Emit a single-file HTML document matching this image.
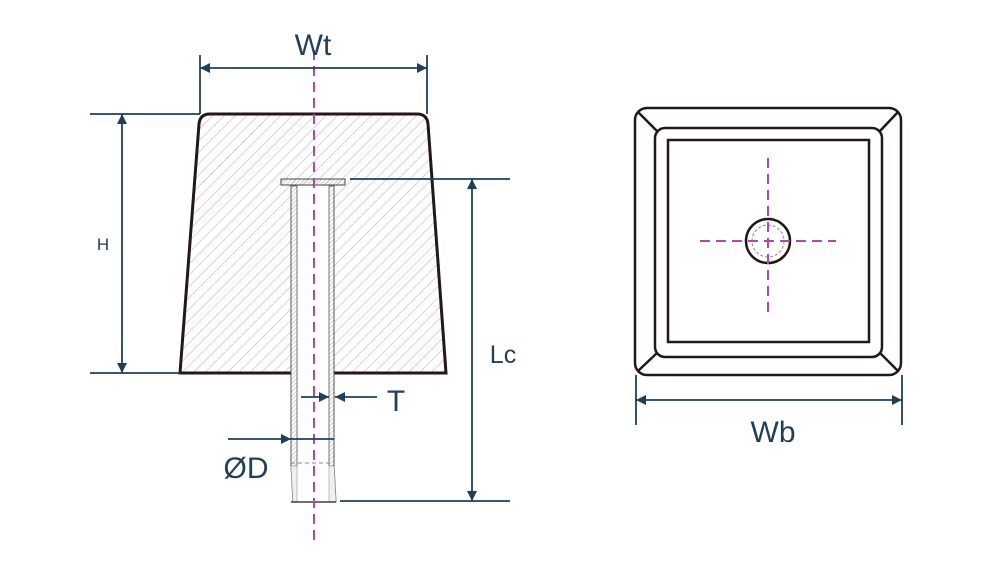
<!DOCTYPE html>
<html><head><style>html,body{margin:0;padding:0;background:#fff}svg{display:block}</style></head>
<body>
<svg width="1000" height="562" viewBox="0 0 1000 562" xmlns="http://www.w3.org/2000/svg">
<defs>
<pattern id="h" width="8" height="8" patternUnits="userSpaceOnUse" patternTransform="rotate(45)">
<line x1="0" y1="0" x2="0" y2="8" stroke="#9a9a9a" stroke-width="0.8"/></pattern>
<pattern id="h2" width="3" height="3" patternUnits="userSpaceOnUse" patternTransform="rotate(45)">
<line x1="0" y1="0" x2="0" y2="3" stroke="#888" stroke-width="0.7"/></pattern>
<marker id="a" viewBox="0 0 10 10" refX="10" refY="5" markerWidth="14" markerHeight="10" markerUnits="userSpaceOnUse" orient="auto-start-reverse"><path d="M0,0L10,5L0,10z" fill="#1f3f5b"/></marker>
</defs>
<path d="M210,114 L417,114 Q427,114 428,124 L446,373 L180,373 L199,124 Q200,114 210,114 Z" fill="url(#h)" stroke="#231815" stroke-width="3"/>
<rect x="291" y="186" width="43" height="188" fill="#fff"/>
<path d="M291,186 L291,465 L293,502 L336,502 L334,465 L334,186" fill="#fff" stroke="#555" stroke-width="1"/>
<rect x="291" y="186" width="6" height="280" fill="url(#h2)" stroke="#555" stroke-width="0.8"/>
<rect x="329" y="186" width="5" height="280" fill="url(#h2)" stroke="#555" stroke-width="0.8"/>
<path d="M291,466 L293,502 L297,502 L297,466Z M329,466 L329,502 L336,502 L334,466Z" fill="#eef1f4" stroke="#999" stroke-width="0.6"/>
<rect x="281" y="179" width="64" height="6" fill="url(#h2)" stroke="#444" stroke-width="1"/>
<line x1="291" y1="463" x2="334" y2="463" stroke="#888" stroke-width="1" stroke-dasharray="4,3"/>
<line x1="291" y1="502" x2="336" y2="502" stroke="#231815" stroke-width="1.2"/>
<line x1="314" y1="50" x2="314" y2="540" stroke="#b04aa8" stroke-width="2" stroke-dasharray="10,6"/>
<g stroke="#1f3f5b" stroke-width="1.8" fill="none">
<line x1="200" y1="55" x2="200" y2="114"/><line x1="427" y1="55" x2="427" y2="114"/>
<line x1="200" y1="68" x2="427" y2="68" marker-start="url(#a)" marker-end="url(#a)"/>
<line x1="90" y1="114" x2="200" y2="114"/><line x1="90" y1="373" x2="180" y2="373"/>
<line x1="122" y1="114" x2="122" y2="373" marker-start="url(#a)" marker-end="url(#a)"/>
<line x1="350" y1="179" x2="510" y2="179"/><line x1="340" y1="501" x2="510" y2="501"/>
<line x1="472" y1="179" x2="472" y2="501" marker-start="url(#a)" marker-end="url(#a)"/>
<line x1="301" y1="397" x2="329" y2="397" marker-end="url(#a)"/>
<line x1="377" y1="397" x2="335" y2="397" marker-end="url(#a)"/>
<line x1="228" y1="439" x2="291" y2="439" marker-end="url(#a)"/>
<line x1="291" y1="439" x2="334" y2="439"/>
<line x1="636" y1="375" x2="636" y2="425"/><line x1="902" y1="375" x2="902" y2="425"/>
<line x1="636" y1="400" x2="902" y2="400" marker-start="url(#a)" marker-end="url(#a)"/>
</g>
<g fill="#1f3f5b" font-family="Liberation Sans, sans-serif">
<text x="313" y="55" font-size="30" text-anchor="middle">Wt</text>
<text x="103" y="250" font-size="17" text-anchor="middle">H</text>
<text x="503" y="363" font-size="25" text-anchor="middle">Lc</text>
<text x="396" y="411" font-size="30" text-anchor="middle">T</text>
<text x="246" y="478" font-size="30" text-anchor="middle">ØD</text>
<text x="773" y="442" font-size="30" text-anchor="middle">Wb</text>
</g>
<g stroke="#231815" stroke-width="2.5" fill="none">
<rect x="635" y="108" width="266" height="267" rx="12"/>
<rect x="655" y="128" width="227" height="229" rx="10"/>
<rect x="668" y="140" width="201" height="202"/>
<line x1="638" y1="112" x2="657" y2="131"/><line x1="898" y1="112" x2="880" y2="131"/>
<line x1="638" y1="371" x2="657" y2="353"/><line x1="898" y1="371" x2="880" y2="353"/>
<circle cx="768" cy="241" r="22"/>
</g>
<circle cx="768" cy="241" r="16" fill="none" stroke="#888" stroke-width="1" stroke-dasharray="3,2"/>
<g stroke="#b04aa8" stroke-width="2" stroke-dasharray="10,6">
<line x1="768" y1="158" x2="768" y2="312"/><line x1="700" y1="241" x2="836" y2="241"/>
</g>
</svg>
</body></html>
